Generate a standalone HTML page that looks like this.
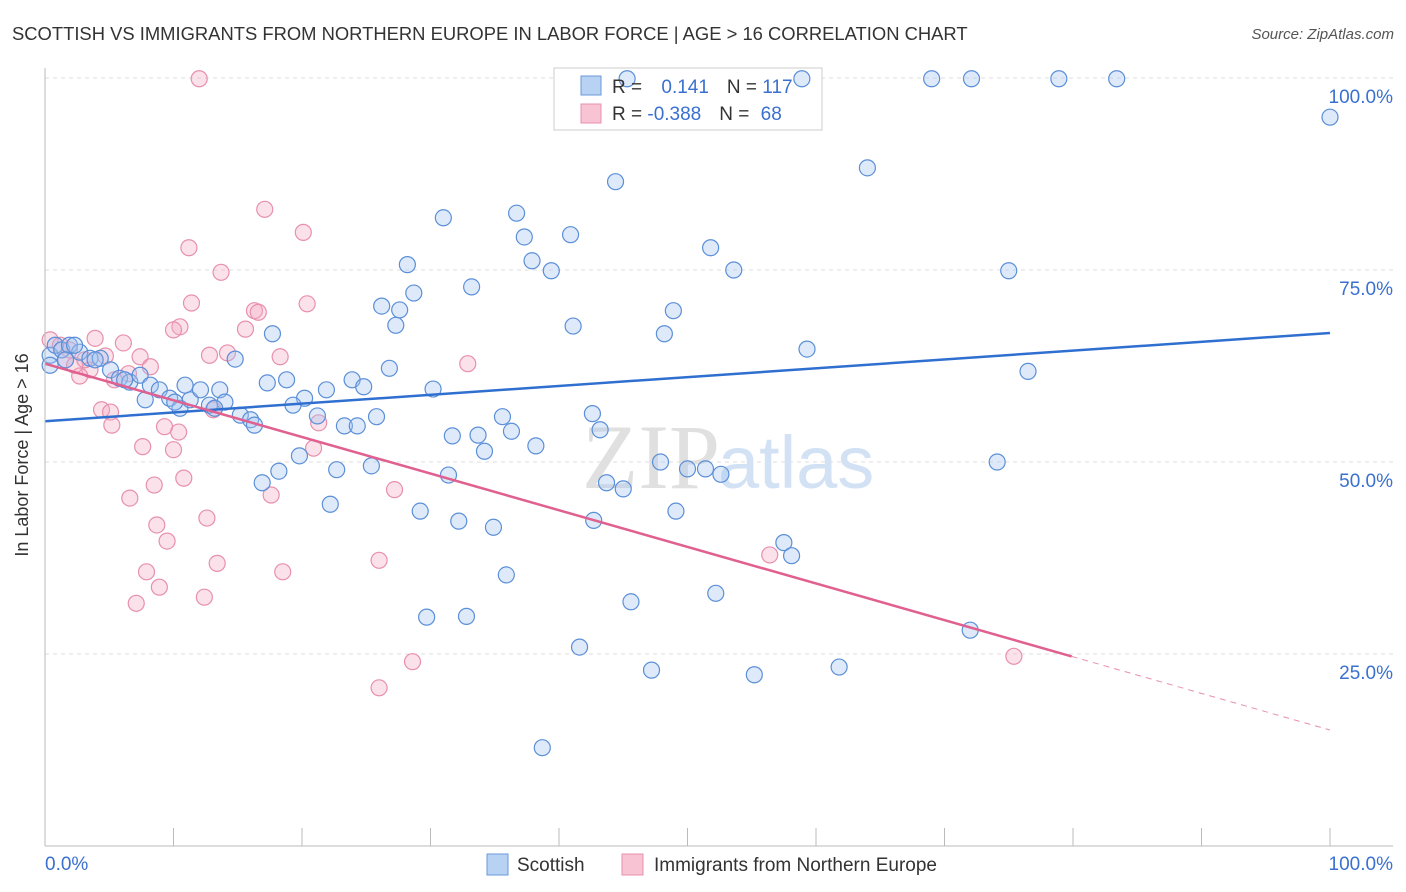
<!DOCTYPE html>
<html><head><meta charset="utf-8"><style>
body{margin:0;background:#fff;font-family:"Liberation Sans",sans-serif}
svg{display:block}
</style></head><body>
<svg id="chart" width="1406" height="892" xmlns="http://www.w3.org/2000/svg">
<text x="12" y="40" font-size="18.4" fill="#333">SCOTTISH VS IMMIGRANTS FROM NORTHERN EUROPE IN LABOR FORCE | AGE &gt; 16 CORRELATION CHART</text>
<text x="1394" y="39" font-size="15" fill="#555" font-style="italic" text-anchor="end">Source: ZipAtlas.com</text>
<g id="grid"></g>
<text x="720" y="488" font-size="92" font-family="Liberation Serif,serif" fill="#e0e0e0" text-anchor="end">ZIP</text>
<text x="718" y="488" font-size="74" fill="#d2e2f4">atlas</text>
<rect x="554" y="68" width="268" height="62" fill="#fff" stroke="#ccc"/>
<g id="pts"></g>
<g id="trend"></g>
<g id="axes"></g>
<text x="28" y="455" font-size="18" fill="#333" text-anchor="middle" transform="rotate(-90 28 455)">In Labor Force | Age &gt; 16</text>
<g>
<rect x="581" y="76" width="20" height="19" fill="#b8d2f4" stroke="#6a9ad8"/>
<rect x="581" y="104" width="20" height="19" fill="#f8c4d4" stroke="#e890ac"/>
<text x="612" y="93" font-size="19" fill="#333">R = <tspan fill="#3a70d0" dx="14">0.141</tspan><tspan dx="18" fill="#333">N = </tspan><tspan fill="#3a70d0">117</tspan></text>
<text x="612" y="120" font-size="19" fill="#333">R = <tspan fill="#3a70d0">-0.388</tspan><tspan dx="18" fill="#333">N = </tspan><tspan fill="#3a70d0" dx="6">68</tspan></text>
</g>
<g>
<rect x="487" y="854" width="21" height="21" fill="#b8d2f4" stroke="#6a9ad8"/>
<text x="517" y="871" font-size="19" fill="#333">Scottish</text>
<rect x="622" y="854" width="21" height="21" fill="#f8c4d4" stroke="#e890ac"/>
<text x="654" y="871" font-size="19" fill="#333">Immigrants from Northern Europe</text>
</g>
</svg>
<script>
const blueX=[45.3,58.9,69.0,72.1,78.9,83.4,100,64.0,44.4,31.0,36.7,40.9,37.3,51.8,37.9,28.2,39.4,53.6,75.0,33.2,28.7,26.2,27.6,48.9,27.3,41.1,48.2,17.7,59.3,14.8,26.8,76.5,17.3,18.8,23.9,21.9,24.8,30.2,20.2,19.3,21.2,25.8,23.3,24.3,35.6,42.6,36.3,43.2,31.7,33.7,34.2,38.2,25.4,18.2,22.7,19.8,31.4,16.9,47.9,50.0,51.4,52.6,43.7,45.0,74.1,22.2,29.2,32.2,34.9,42.7,49.1,57.5,58.1,35.9,52.2,45.6,29.7,32.8,41.6,72.0,47.2,55.2,61.8,38.7,0.4,0.8,1.3,1.9,2.7,3.5,4.3,5.1,5.8,6.6,7.4,8.2,8.9,9.7,10.5,11.3,12.1,12.8,13.6,14.0,15.2,16.0,16.3,7.8,10.9,10.1,13.2,3.9,6.2,1.6,0.4,2.3];
const blueY=[99.9,99.9,99.9,99.9,99.9,99.9,94.9,88.3,86.5,81.8,82.4,79.6,79.3,77.9,76.2,75.7,74.9,75.0,74.9,72.8,72.0,70.3,69.8,69.7,67.8,67.7,66.7,66.7,64.7,63.4,62.2,61.8,60.3,60.7,60.7,59.4,59.8,59.5,58.3,57.4,56.0,55.9,54.7,54.7,55.9,56.3,54.0,54.2,53.4,53.5,51.4,52.1,49.5,48.8,49.0,50.8,48.3,47.3,50.0,49.1,49.1,48.4,47.3,46.5,50.0,44.5,43.6,42.3,41.5,42.4,43.6,39.5,37.8,35.3,32.9,31.8,29.8,29.9,25.9,28.1,22.9,22.3,23.3,12.8,63.9,65.2,64.6,65.2,64.3,63.5,63.5,62.0,60.9,60.4,61.3,60.0,59.4,58.3,57.0,58.1,59.4,57.4,59.4,57.8,56.1,55.5,54.8,58.1,60.0,57.8,57.0,63.3,60.7,63.3,62.6,65.2];
const pinkX=[12.0,17.1,20.1,11.2,13.7,20.4,11.4,16.3,16.6,10.5,15.6,10.0,0.4,1.2,3.9,6.1,1.9,4.7,7.4,12.8,14.2,18.3,32.9,8.2,3.5,2.7,5.4,6.5,13.1,4.4,5.1,5.2,9.3,10.4,21.3,7.6,10.0,20.9,10.8,27.2,8.5,6.6,17.6,12.6,8.7,9.5,13.4,18.5,26.0,7.9,8.9,12.4,7.1,56.4,28.6,26.0,75.4,1.6,2.3,3.1];
const pinkY=[99.9,82.9,79.9,77.9,74.7,70.6,70.7,69.7,69.5,67.6,67.3,67.2,65.9,65.2,66.1,65.5,64.6,63.8,63.7,63.9,64.2,63.7,62.8,62.4,62.0,61.2,60.7,61.5,56.8,56.8,56.5,54.8,54.6,53.9,55.1,52.0,51.6,51.8,47.9,46.4,47.0,45.3,45.7,42.7,41.8,39.7,36.8,35.7,37.2,35.7,33.7,32.4,31.6,37.9,24.0,20.6,24.7,63.3,62.6,63.3];
const blueTrend=[55.3,66.8];     // y at x=0, x=100
const pinkTrend=[62.8,-0.477];   // intercept, slope
const pinkSolidEnd=79.9;
const yTicks=[25,50,75,100];
const yTickLabels=["25.0%","50.0%","75.0%","100.0%"];

const NS="http://www.w3.org/2000/svg";
const X0=45,X1=1330,YB=846,YT=78;
const sx=v=>X0+(X1-X0)*v/100;
const sy=v=>YB-(YB-YT)*v/100;
function mk(tag,attrs,parent){const e=document.createElementNS(NS,tag);for(const k in attrs)e.setAttribute(k,attrs[k]);parent.appendChild(e);return e;}
const grid=document.getElementById('grid');
yTicks.forEach((t,i)=>{
  const l=mk('line',{x1:X0,x2:1393,y1:sy(t),y2:sy(t),stroke:'#ddd','stroke-dasharray':'4 4'},grid);
  
  
  const tx=mk('text',{x:1393,y:sy(t)+25,'font-size':19,fill:'#3a70d0','text-anchor':'end'},grid);
  tx.textContent=yTickLabels[i];
  
  
});
const axes=document.getElementById('axes');
let a=mk('line',{x1:X0,x2:1393,y1:YB,y2:YB,stroke:'#bbb'},axes);


a=mk('line',{x1:X0,x2:X0,y1:68,y2:YB,stroke:'#bbb'},axes);


for(let i=0;i<=10;i++){
  const t=mk('line',{x1:sx(i*10),x2:sx(i*10),y1:828,y2:YB,stroke:'#bbb'},axes);
  
  
}
let xl=mk('text',{x:45,y:870,'font-size':19,fill:'#3a70d0'},axes);xl.textContent='0.0%';


xl=mk('text',{x:1393,y:870,'font-size':19,fill:'#3a70d0','text-anchor':'end'},axes);xl.textContent='100.0%';


const pts=document.getElementById('pts');
pinkX.forEach((x,i)=>{
  const c=mk('circle',{cx:sx(x),cy:sy(pinkY[i]),r:8,fill:'rgba(244,170,195,0.35)',stroke:'#e890ac','stroke-width':1.2},pts);
  
  
});
blueX.forEach((x,i)=>{
  const c=mk('circle',{cx:sx(x),cy:sy(blueY[i]),r:8,fill:'rgba(160,195,240,0.35)',stroke:'#5b8fd8','stroke-width':1.2},pts);
  
  
});
const tr=document.getElementById('trend');
let l=mk('line',{x1:sx(0),y1:sy(blueTrend[0]),x2:sx(100),y2:sy(blueTrend[1]),stroke:'#2f6fd0','stroke-width':2.5},tr);


const py=x=>pinkTrend[0]+pinkTrend[1]*x;
l=mk('line',{x1:sx(0),y1:sy(py(0)),x2:sx(pinkSolidEnd),y2:sy(py(pinkSolidEnd)),stroke:'#e06090','stroke-width':2.5},tr);


l=mk('line',{x1:sx(pinkSolidEnd),y1:sy(py(pinkSolidEnd)),x2:sx(100),y2:sy(py(100)),stroke:'#e890ac','stroke-width':1,'stroke-dasharray':'6 5'},tr);


</script>
</body></html>
